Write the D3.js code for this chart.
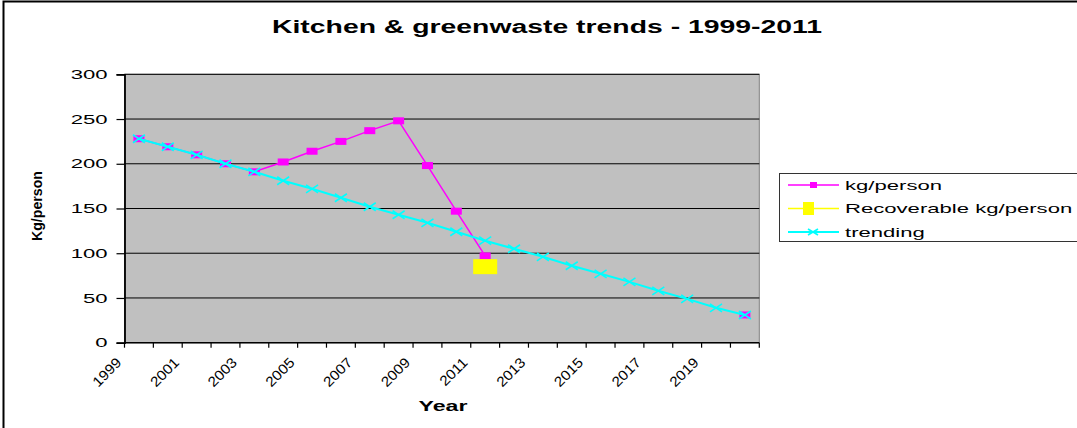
<!DOCTYPE html>
<html>
<head>
<meta charset="utf-8">
<script src="https://cdn.jsdelivr.net/npm/d3@7/dist/d3.min.js"></script>
<style>
  html, body { margin: 0; padding: 0; background: #fff; }
  svg { display: block; font-family: "Liberation Sans", Arial, sans-serif; }
</style>
</head>
<body>
<svg id="chart" width="1077" height="428"></svg>
<script>
// Categories (years) and series values
const years = ["1999","2000","2001","2002","2003","2004","2005","2006","2007","2008","2009",
               "2010","2011","2012","2013","2014","2015","2016","2017","2018","2019","2020"];
const kgPerson = [228, 219, 210, 200, 191, 202, 214, 225, 237, 248, 198, 147, 97,
                  null, null, null, null, null, null, null, null, 31];
const recoverable = [null, null, null, null, null, null, null, null, null, null, null, null, 85,
                     null, null, null, null, null, null, null, null, null];
const trending = [228, 219, 210, 200, 191, 181, 172, 162, 152, 143, 134, 124, 114,
                  105, 96, 86, 77, 68, 58, 49, 39, 31];
const xTickLabels = ["1999","2001","2003","2005","2007","2009","2011","2013","2015","2017","2019"];
const yTicks = [0, 50, 100, 150, 200, 250, 300];
const seriesNames = ["kg/person", "Recoverable kg/person", "trending"];

const SX = 1.7; // horizontal glyph widening used by the labels

const svg = d3.select("#chart");

// outer chart frame
svg.append("rect")
  .attr("x", 3.5).attr("y", 1.5).attr("width", 1200).attr("height", 600)
  .attr("fill", "#fff").attr("stroke", "#000").attr("stroke-width", 2);

const plot = { left: 124.5, right: 759.3, top: 74.3, bottom: 342.7 };

const x = d3.scaleBand().domain(years).range([plot.left, plot.right]).padding(0);
const cx = d => x(d) + x.bandwidth() / 2;
const y = d3.scaleLinear().domain([0, 300]).range([plot.bottom, plot.top]);

// plot area
svg.append("rect")
  .attr("x", plot.left).attr("y", plot.top)
  .attr("width", plot.right - plot.left).attr("height", plot.bottom - plot.top)
  .attr("fill", "#c0c0c0").attr("stroke", "#808080").attr("stroke-width", 1);

// horizontal gridlines
svg.append("g").selectAll("line")
  .data(yTicks.filter(v => v > 0))
  .join("line")
  .attr("x1", plot.left).attr("x2", plot.right)
  .attr("y1", d => y(d)).attr("y2", d => y(d))
  .attr("stroke", "#000").attr("stroke-width", 1);

// y axis
const yAxis = svg.append("g")
  .attr("transform", `translate(${plot.left},0)`)
  .call(d3.axisLeft(y).tickValues(yTicks).tickSize(8).tickPadding(4));
yAxis.select(".domain").attr("stroke", "#000").attr("stroke-width", 1.8);
yAxis.selectAll(".tick line").attr("stroke", "#000").attr("stroke-width", 1.2);
yAxis.selectAll(".tick text")
  .attr("x", 0)
  .attr("transform", `translate(-17,0) scale(${SX},1)`)
  .attr("font-size", 13).attr("fill", "#000")
  .attr("font-family", "Liberation Sans, Arial, sans-serif");

// x axis line and ticks at category boundaries
const bounds = years.map(d => x(d)).concat([plot.right]);
svg.append("line")
  .attr("x1", plot.left).attr("x2", plot.right)
  .attr("y1", plot.bottom).attr("y2", plot.bottom)
  .attr("stroke", "#000").attr("stroke-width", 1.5);
svg.append("g").selectAll("line")
  .data(bounds)
  .join("line")
  .attr("x1", d => d).attr("x2", d => d)
  .attr("y1", plot.bottom).attr("y2", plot.bottom + 5)
  .attr("stroke", "#000").attr("stroke-width", 1.2);

// rotated year labels
svg.append("g").selectAll("text")
  .data(xTickLabels)
  .join("text")
  .attr("transform", d => `translate(${cx(d) - 20},360) rotate(-45) scale(1.1,1)`)
  .attr("text-anchor", "end")
  .attr("dy", "0.35em")
  .attr("font-size", 14)
  .text(d => d);

// series lines
const lineGen = d3.line()
  .defined(d => d.v !== null)
  .x(d => cx(d.year))
  .y(d => y(d.v));
const asPoints = arr => years.map((yr, i) => ({ year: yr, v: arr[i] }));

svg.append("path")
  .datum(asPoints(kgPerson))
  .attr("d", lineGen)
  .attr("fill", "none").attr("stroke", "#ff00ff").attr("stroke-width", 1.5);

svg.append("g").selectAll("rect")
  .data(asPoints(kgPerson).filter(d => d.v !== null))
  .join("rect")
  .attr("x", d => cx(d.year) - 5.5).attr("y", d => y(d.v) - 3.5)
  .attr("width", 11).attr("height", 7)
  .attr("fill", "#ff00ff");

svg.append("g").selectAll("rect")
  .data(asPoints(recoverable).filter(d => d.v !== null))
  .join("rect")
  .attr("x", d => cx(d.year) - 12).attr("y", d => y(d.v) - 7.5)
  .attr("width", 24).attr("height", 15)
  .attr("fill", "#ffff00");

svg.append("path")
  .datum(asPoints(trending))
  .attr("d", lineGen)
  .attr("fill", "none").attr("stroke", "#00ffff").attr("stroke-width", 2);

const xMark = (g, px, py, hw, hh) => {
  g.append("line").attr("x1", px - hw).attr("y1", py - hh).attr("x2", px + hw).attr("y2", py + hh);
  g.append("line").attr("x1", px - hw).attr("y1", py + hh).attr("x2", px + hw).attr("y2", py - hh);
};
const trendMarks = svg.append("g").attr("stroke", "#00ffff").attr("stroke-width", 1.6);
asPoints(trending).forEach(d => xMark(trendMarks, cx(d.year), y(d.v), 6, 4));

// axis titles
svg.append("text")
  .attr("transform", `translate(443,411) scale(1.65,1)`)
  .attr("text-anchor", "middle")
  .attr("font-size", 14).attr("font-weight", "bold")
  .text("Year");

svg.append("text")
  .attr("transform", "translate(42,206) rotate(-90)")
  .attr("text-anchor", "middle")
  .attr("font-size", 14).attr("font-weight", "bold")
  .attr("textLength", 70).attr("lengthAdjust", "spacingAndGlyphs")
  .text("Kg/person");

// chart title
svg.append("text")
  .attr("x", 547).attr("y", 33)
  .attr("text-anchor", "middle")
  .attr("font-size", 18).attr("font-weight", "bold")
  .attr("textLength", 550).attr("lengthAdjust", "spacingAndGlyphs")
  .text("Kitchen & greenwaste trends - 1999-2011");

// legend
const legend = svg.append("g");
legend.append("rect")
  .attr("x", 779.5).attr("y", 173.5).attr("width", 400).attr("height", 68)
  .attr("fill", "#fff").attr("stroke", "#333").attr("stroke-width", 1);

const rowsY = [185, 208.5, 232];
const colors = ["#ff00ff", "#ffff00", "#00ffff"];
seriesNames.forEach((name, i) => {
  const ry = rowsY[i];
  legend.append("line")
    .attr("x1", 788).attr("x2", 839).attr("y1", ry).attr("y2", ry)
    .attr("stroke", colors[i]).attr("stroke-width", i === 2 ? 2 : 1.5);
  if (i === 0) {
    legend.append("rect").attr("x", 810).attr("y", ry - 3).attr("width", 7).attr("height", 6)
      .attr("fill", colors[i]);
  } else if (i === 1) {
    legend.append("rect").attr("x", 803).attr("y", ry - 6.5).attr("width", 11).attr("height", 13)
      .attr("fill", colors[i]);
  } else {
    const g = legend.append("g").attr("stroke", colors[i]).attr("stroke-width", 1.6);
    xMark(g, 813, ry, 5, 3);
  }
  legend.append("text")
    .attr("transform", `translate(845,${ry + 4.5}) scale(${SX},1)`)
    .attr("font-size", 13)
    .text(name);
});
</script>
</body>
</html>
